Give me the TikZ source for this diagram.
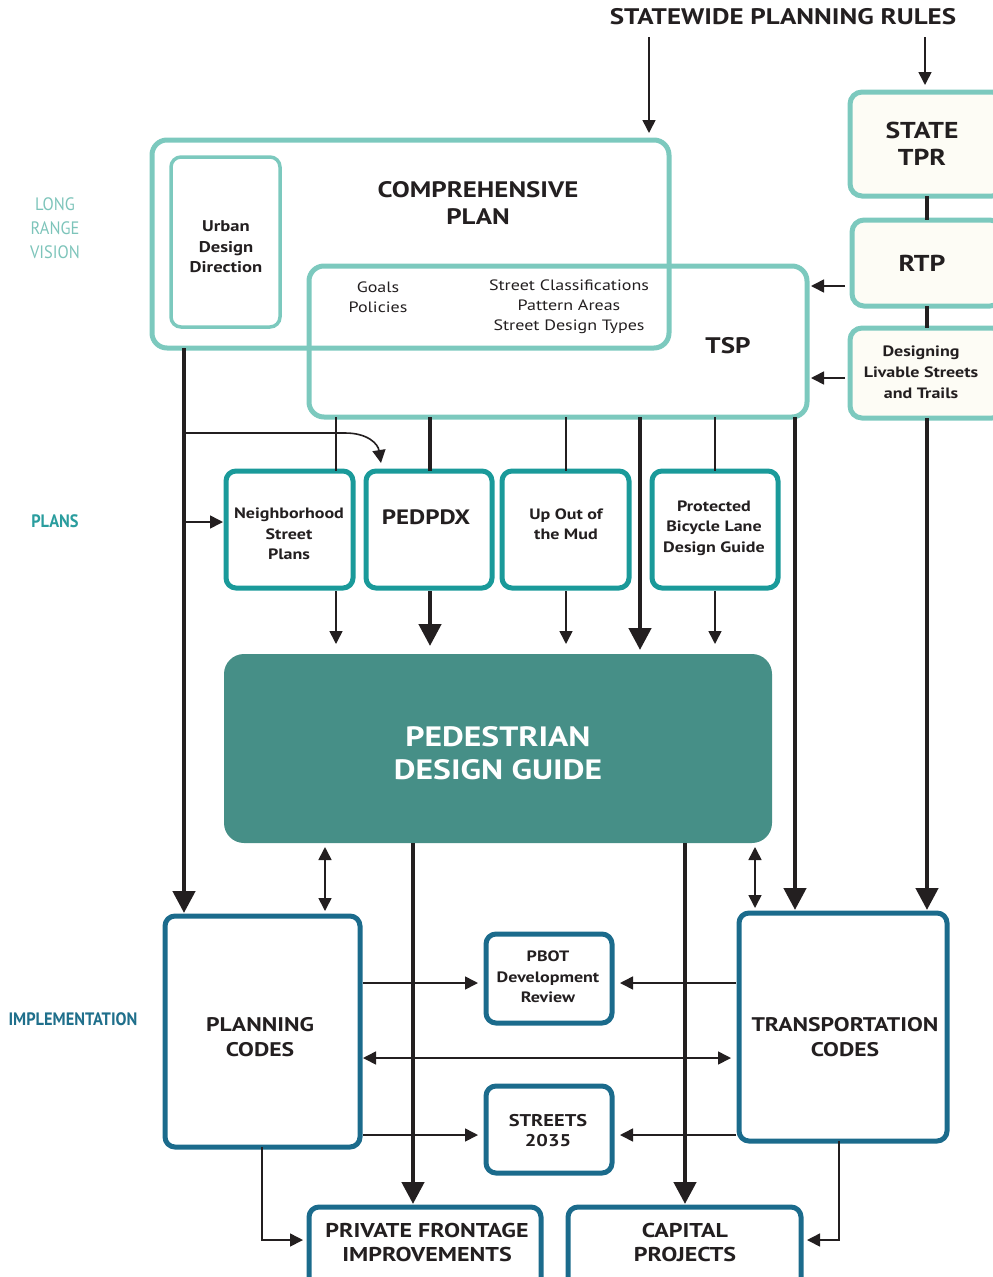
\documentclass[tikz,border=0pt]{standalone}
\usepackage{fontspec}
\setmainfont[FakeStretch=1.2]{PT Sans}
\newfontfamily\condfont[FakeStretch=0.91]{PT Sans}
\usetikzlibrary{arrows.meta,calc}
\definecolor{lteal}{HTML}{7CC9BE}
\definecolor{mteal}{HTML}{1A9A9A}
\definecolor{dblue}{HTML}{1B6B8C}
\definecolor{pdgc}{HTML}{468F87}
\definecolor{cream}{HTML}{FDFCF5}
\definecolor{txt}{HTML}{231F20}
\definecolor{lrvc}{HTML}{7DC4BA}
\definecolor{plc}{HTML}{2A9D9E}
\definecolor{imc}{HTML}{1F6F8B}
\begin{document}
\begin{tikzpicture}[x=1pt,y=-1pt,
  every node/.style={inner sep=0pt, outer sep=0pt},
  cpbox/.style={draw=lteal, line width=5pt, rounded corners=15pt},
  udbox/.style={draw=lteal, line width=3.5pt, rounded corners=10pt},
  rbox/.style={draw=lteal, fill=cream, line width=5pt, rounded corners=12pt},
  plbox/.style={draw=mteal, line width=5pt, rounded corners=10pt},
  imbox/.style={draw=dblue, line width=5pt, rounded corners=10pt},
  pdgbox/.style={fill=pdgc, rounded corners=20pt},
  lbl/.style={align=center, text=txt},
  sl/.style={draw=txt, line width=1.6pt},
  bl/.style={draw=txt, line width=4.5pt},
  sarr/.style={sl, -{Triangle[width=13pt,length=13pt]}},
  barr/.style={bl, -{Triangle[width=22pt,length=22pt]}},
  darr/.style={sl, {Triangle[width=13pt,length=13pt]}-{Triangle[width=13pt,length=13pt]}},
]
\useasboundingbox (0,0) rectangle (993,1277);
\clip (0,0) rectangle (993,1277);

% ---------- boxes ----------
\node[cpbox, minimum width=517pt, minimum height=208pt] (cp) at (410.5,244) {};
\node[udbox, minimum width=109pt, minimum height=170pt] (ud) at (225.5,242) {};
\node[cpbox, minimum width=498pt, minimum height=151pt] (tsp) at (558,341.5) {};

\node[rbox, minimum width=154pt, minimum height=104pt] (st) at (927,144) {};
\node[rbox, minimum width=150pt, minimum height=86pt] (rtp) at (927,263) {};
\node[rbox, minimum width=154pt, minimum height=90pt] (dl) at (927,373) {};

\node[plbox, minimum width=127pt, minimum height=117pt] (nsp) at (289.5,529.5) {};
\node[plbox, minimum width=126pt, minimum height=117pt] (ped) at (429,529.5) {};
\node[plbox, minimum width=127pt, minimum height=117pt] (uom) at (565.5,529.5) {};
\node[plbox, minimum width=126pt, minimum height=117pt] (pbl) at (715,529.5) {};

\node[pdgbox, minimum width=548pt, minimum height=189pt] (pdg) at (498,748.5) {};

\node[imbox, minimum width=195pt, minimum height=231pt] (pc) at (262.5,1031.5) {};
\node[imbox, minimum width=208pt, minimum height=228pt] (tc) at (843,1027) {};
\node[imbox, minimum width=126pt, minimum height=89pt] (pbot) at (549,978.5) {};
\node[imbox, minimum width=126pt, minimum height=87pt] (s35) at (549,1129.5) {};
\node[imbox, minimum width=232pt, minimum height=90pt] (pfi) at (425,1252) {};
\node[imbox, minimum width=233pt, minimum height=90pt] (cap) at (684.5,1252) {};

% ---------- texts ----------
\node[lbl, font=\bfseries\fontsize{22.5}{28}\selectfont] (sw) at (783,17) {STATEWIDE PLANNING RULES};
\node[lbl, font=\bfseries\fontsize{22.4}{27}\selectfont] (cpt) at (478,203) {COMPREHENSIVE\\PLAN};
\node[lbl, font=\bfseries\fontsize{15.5}{20.5}\selectfont] (udt) at (226,247) {Urban\\Design\\Direction};
\node[lbl, font=\fontsize{15}{20}\selectfont] (gpt) at (378,297) {Goals\\Policies};
\node[lbl, font=\fontsize{15}{20}\selectfont] (sct) at (569,307) {Street Classifications\\Pattern Areas\\Street Design Types};
\node[lbl, font=\bfseries\fontsize{22.5}{26}\selectfont] (tspt) at (728,346) {TSP};
\node[lbl, font=\bfseries\fontsize{23}{27}\selectfont] (stt) at (922,144) {STATE\\TPR};
\node[lbl, font=\bfseries\fontsize{23}{27}\selectfont] (rtpt) at (922,263) {RTP};
\node[lbl, font=\bfseries\fontsize{15}{21}\selectfont] (dlt) at (921,372) {Designing\\Livable Streets\\and Trails};

\node[align=center, text=lrvc, font=\condfont\fontsize{18}{24}\selectfont] (lrv) at (55,228) {LONG\\RANGE\\VISION};
\node[align=center, text=plc, font=\condfont\bfseries\fontsize{18}{24}\selectfont] (plans) at (55,521) {PLANS};
\node[align=center, text=imc, font=\condfont\bfseries\fontsize{18}{24}\selectfont] (impl) at (73,1019) {IMPLEMENTATION};

\node[lbl, font=\bfseries\fontsize{15}{20.5}\selectfont] (nspt) at (289,534) {Neighborhood\\Street\\Plans};
\node[lbl, font=\bfseries\fontsize{20.8}{26}\selectfont] (pedt) at (426,517) {PEDPDX};
\node[lbl, font=\bfseries\fontsize{15}{20.5}\selectfont] (uomt) at (566,524) {Up Out of\\the Mud};
\node[lbl, font=\bfseries\fontsize{15}{20.5}\selectfont] (pblt) at (714,528) {Protected\\Bicycle Lane\\Design Guide};

\node[align=center, text=white, font=\bfseries\fontsize{28}{33}\selectfont] (pdgt) at (498,753) {PEDESTRIAN\\DESIGN GUIDE};

\node[lbl, font=\bfseries\fontsize{19.7}{25}\selectfont] (pct) at (260,1037) {PLANNING\\CODES};
\node[lbl, font=\bfseries\fontsize{19.7}{25}\selectfont] (tct) at (845,1037) {TRANSPORTATION\\CODES};
\node[lbl, font=\bfseries\fontsize{15}{20.5}\selectfont] (pbott) at (548,977) {PBOT\\Development\\Review};
\node[lbl, font=\bfseries\fontsize{17}{20}\selectfont] (s35t) at (548,1131) {STREETS\\2035};
\node[lbl, font=\bfseries\fontsize{20}{24}\selectfont] (pfit) at (427,1242) {PRIVATE FRONTAGE\\IMPROVEMENTS};
\node[lbl, font=\bfseries\fontsize{20}{24}\selectfont] (capt) at (685,1242) {CAPITAL\\PROJECTS};

% ---------- column / row coordinates ----------
\coordinate (sw1) at (649,37);
\coordinate (sw2) at (925,37);
\coordinate (c184) at (184,0);
\coordinate (c335) at (336,0);
\coordinate (c430) at (430,0);
\coordinate (c566) at (566,0);
\coordinate (c640) at (640,0);
\coordinate (c715) at (715,0);
\coordinate (c795) at (795,0);
\coordinate (c325) at (325,0);
\coordinate (c413) at (413,0);
\coordinate (c685) at (685,0);
\coordinate (c755) at (755,0);
\coordinate (c262) at (262,0);
\coordinate (c839) at (839,0);
\coordinate (r286) at (0,286);
\coordinate (r378) at (0,378);
\coordinate (r522) at (0,522);
\coordinate (r983) at (0,983);
\coordinate (r1058) at (0,1058);
\coordinate (r1135) at (0,1135);
\coordinate (r1240) at (0,1240);
\coordinate (br1) at (184,433);
\coordinate (pedin) at (381,463);

% ---------- connectors ----------
\draw[sarr, shorten >=7pt] (sw1) -- (cp.north -| sw1);
\draw[sarr, shorten >=7pt] (sw2) -- (st.north -| sw2);
\draw[bl] (st.south) -- (rtp.north);
\draw[bl] (rtp.south) -- (dl.north);
\draw[sarr, shorten <=7pt, shorten >=4pt] (rtp.west |- r286) -- (tsp.east |- r286);
\draw[sarr, shorten <=5pt, shorten >=4pt] (dl.west |- r378) -- (tsp.east |- r378);

\draw[barr, shorten >=3pt] (cp.south -| c184) -- (pc.north -| c184);
\draw[sl, -{Triangle[width=13pt,length=13pt]}] (br1) -- (345,433) .. controls (368,433) and (378,444) .. (pedin);
\draw[sarr, shorten >=3pt] (c184 |- r522) -- (nsp.west |- r522);

\draw[sl] (tsp.south -| c335) -- (nsp.north -| c335);
\draw[bl] (tsp.south -| c430) -- (ped.north -| c430);
\draw[sl] (tsp.south -| c566) -- (uom.north -| c566);
\draw[sl] (tsp.south -| c715) -- (pbl.north -| c715);
\draw[barr, shorten >=4pt] (tsp.south -| c640) -- (pdg.north -| c640);
\draw[barr, shorten >=3pt] (tsp.south -| c795) -- (tc.north -| c795);
\draw[barr, shorten >=3pt] (dl.south) -- (tc.north -| dl.south);

\draw[sarr, shorten <=3pt, shorten >=10pt] (nsp.south -| c335) -- (pdg.north -| c335);
\draw[barr, shorten <=3pt, shorten >=8pt] (ped.south -| c430) -- (pdg.north -| c430);
\draw[sarr, shorten <=3pt, shorten >=10pt] (uom.south -| c566) -- (pdg.north -| c566);
\draw[sarr, shorten <=3pt, shorten >=10pt] (pbl.south -| c715) -- (pdg.north -| c715);

\draw[darr, shorten <=4pt, shorten >=5pt] (pdg.south -| c325) -- (pc.north -| c325);
\draw[darr, shorten <=4pt, shorten >=5pt] (pdg.south -| c755) -- (tc.north -| c755);
\draw[barr, shorten >=3pt] (pdg.south -| c413) -- (pfi.north -| c413);
\draw[barr, shorten >=3pt] (pdg.south -| c685) -- (cap.north -| c685);

\draw[sarr, shorten <=3pt, shorten >=8pt] (pc.east |- r983) -- (pbot.west |- r983);
\draw[sarr, shorten <=3pt, shorten >=8pt] (tc.west |- r983) -- (pbot.east |- r983);
\draw[darr, shorten <=3pt, shorten >=8pt] (pc.east |- r1058) -- (tc.west |- r1058);
\draw[sarr, shorten <=3pt, shorten >=8pt] (pc.east |- r1135) -- (s35.west |- r1135);
\draw[sarr, shorten <=3pt, shorten >=8pt] (tc.west |- r1135) -- (s35.east |- r1135);

\draw[sarr, shorten >=6pt] (pc.south -| c262) -- (c262 |- r1240) -- (pfi.west |- r1240);
\draw[sarr, shorten >=6pt] (tc.south -| c839) -- (c839 |- r1240) -- (cap.east |- r1240);
\end{tikzpicture}
\end{document}
